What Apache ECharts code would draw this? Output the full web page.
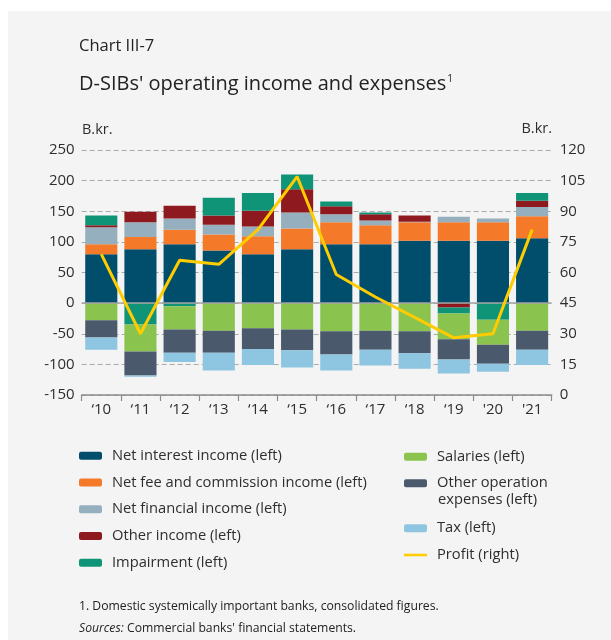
<!DOCTYPE html>
<html><head><meta charset="utf-8">
<script src="https://cdn.jsdelivr.net/npm/echarts@6/dist/echarts.min.js"></script>
<style>
html,body{margin:0;padding:0;background:#fff;}
#panel{position:absolute;left:8px;top:11px;width:603px;height:629px;background:#f4f4f4;}
#chart{position:absolute;left:0;top:0;width:611px;height:640px;}
</style></head><body>
<div id="panel"></div><div id="chart"></div>
<script>
const years = ["\u201810","\u201811","\u201812","\u201813","\u201814","\u201815","\u201816","\u201817","\u201818","\u201819","'20","'21"];
const netInterest = [80, 88, 96, 86, 80, 88, 96, 96, 102, 102, 102, 106];
const netFee      = [16, 20, 24, 26, 29, 34, 36, 31, 30, 30, 30, 36];
const netFin      = [28, 24, 18, 16, 16, 26, 13, 8, 1, 9, 6, 15];
const otherIncome = [3, 17, 21, 15, 26, 38, 13, 10, 10, -7, 0, 10];
const impairment  = [16, -35, -5, 29, 29, 24, 8, 3, 0, -10, -27, 13];
const salaries    = [-28, -44, -38, -45, -41, -43, -46, -45, -46, -42, -41, -45];
const otherOp     = [-28, -39, -38, -36, -34, -34, -38, -31, -36, -33, -31, -31];
const tax         = [-20, -2, -15, -29, -26, -28, -26, -26, -25, -23, -13, -25];
const profit      = [69, 30, 66, 64, 81, 107, 59, 48, 38, 28, 30, 81];
const leftTicks  = {min: -150, max: 250, interval: 50};
const rightTicks = {min: 0, max: 120, interval: 15};

const FONT = '"Open Sans", sans-serif';
const TXT = '#2e2e2e';
const GAP = '18%';

function bar(name, data, color, extra) {
  return Object.assign({
    name: name, type: 'bar', stack: 'total', data: data, yAxisIndex: 0,
    barCategoryGap: GAP, itemStyle: {color: color}, emphasis: {disabled: true}
  }, extra || {});
}

const chart = echarts.init(document.getElementById('chart'), null, {renderer: 'canvas'});
const legendText = {fontSize: 14.7, color: TXT, fontFamily: FONT, lineHeight: 19, padding: [0, 0, 0, 5]};
const option = {
  backgroundColor: 'transparent',
  animation: false,
  textStyle: {fontFamily: FONT},
  grid: {left: 81.7, right: 59.3, top: 150, bottom: 245, containLabel: false},
  graphic: [
    {type: 'text', left: 79, top: 38, style: {text: 'Chart III-7', font: '16.5px ' + FONT, fill: '#222'}},
    {type: 'text', left: 79, top: 66, style: {
      rich: {a: {fontSize: 20, fontFamily: FONT, fill: '#222', lineHeight: 28, verticalAlign: 'bottom'},
             s: {fontSize: 10, fontFamily: FONT, fill: '#222', lineHeight: 28, verticalAlign: 'top', padding: [8, 0, 0, 1]}},
      text: '{a|D-SIBs\' operating income and expenses}{s|1}'}},
    {type: 'text', left: 82, top: 122, style: {text: 'B.kr.', font: '14.5px ' + FONT, fill: TXT}},
    {type: 'text', right: 59, top: 121, style: {text: 'B.kr.', font: '14.5px ' + FONT, fill: TXT}},
    {type: 'text', left: 438, top: 492, style: {text: 'expenses (left)', font: '14.7px ' + FONT, fill: TXT}},
    {type: 'text', left: 79, top: 601, style: {text: '1. Domestic systemically important banks, consolidated figures.', font: '12.2px ' + FONT, fill: '#222'}},
    {type: 'text', left: 79, top: 623, style: {rich: {i: {fontStyle: 'italic', fontSize: 12.2, fontFamily: FONT, fill: '#222'}, n: {fontSize: 12.2, fontFamily: FONT, fill: '#222'}}, text: '{i|Sources:} {n|Commercial banks\' financial statements.}'}}
  ],
  legend: [
    {orient: 'vertical', left: 79, top: 446.2, padding: 0, itemGap: 7.75, itemWidth: 23, itemHeight: 8, selectedMode: false,
     textStyle: legendText,
     data: ['Net interest income (left)', 'Net fee and commission income (left)', 'Net financial income (left)', 'Other income (left)', 'Impairment (left)']},
    {orient: 'vertical', left: 404, top: 447.2, padding: 0, itemGap: 7.6, itemWidth: 23, itemHeight: 8, selectedMode: false,
     textStyle: legendText,
     formatter: function (n) { return n === 'Other operation expenses (left)' ? 'Other operation' : n; },
     data: ['Salaries (left)', 'Other operation expenses (left)']},
    {orient: 'vertical', left: 404, top: 518.8, padding: 0, itemGap: 7.7, itemWidth: 23, itemHeight: 8, selectedMode: false,
     symbolKeepAspect: true,
     textStyle: legendText,
     data: ['Tax (left)', {name: 'Profit (right)', icon: 'path://M0,0 L23,0 L23,2.6 L0,2.6 Z', itemStyle: {color: '#ffcc00'}}]}
  ],
  xAxis: {
    type: 'category', data: years,
    axisLine: {show: true, onZero: false, lineStyle: {color: '#8c8c8c', width: 1.5}},
    axisTick: {show: true, length: 6, lineStyle: {color: '#8c8c8c', width: 1.2}},
    axisLabel: {fontSize: 15, color: TXT, margin: 7, fontFamily: FONT}
  },
  yAxis: [
    {type: 'value', min: leftTicks.min, max: leftTicks.max, interval: leftTicks.interval,
     axisLine: {show: false}, axisTick: {show: false},
     axisLabel: {fontSize: 15, color: TXT, margin: 7, fontFamily: FONT},
     splitLine: {show: true, lineStyle: {color: '#ababab', type: [5, 3], width: 1}}},
    {type: 'value', min: rightTicks.min, max: rightTicks.max, interval: rightTicks.interval, position: 'right',
     axisLine: {show: false}, axisTick: {show: false},
     axisLabel: {fontSize: 15, color: TXT, margin: 8, fontFamily: FONT},
     splitLine: {show: false}}
  ],
  series: [
    bar('Net interest income (left)', netInterest, '#004e6c', {
      markLine: {silent: true, symbol: 'none', label: {show: false}, animation: false,
        lineStyle: {color: '#a3a3a3', type: 'solid', width: 1.6}, data: [{yAxis: 0}]}
    }),
    bar('Net fee and commission income (left)', netFee, '#f47929'),
    bar('Net financial income (left)', netFin, '#95afbe'),
    bar('Other income (left)', otherIncome, '#8e1a20'),
    bar('Impairment (left)', impairment, '#109477'),
    bar('Salaries (left)', salaries, '#8bc34f'),
    bar('Other operation expenses (left)', otherOp, '#4b596c'),
    bar('Tax (left)', tax, '#8ec5e0'),
    {name: 'Profit (right)', type: 'line', yAxisIndex: 1, data: profit, symbol: 'none', z: 10,
     lineStyle: {color: '#ffcc00', width: 3}, itemStyle: {color: '#ffcc00'}, emphasis: {disabled: true}}
  ]
};
chart.setOption(option);
</script>
</body></html>
